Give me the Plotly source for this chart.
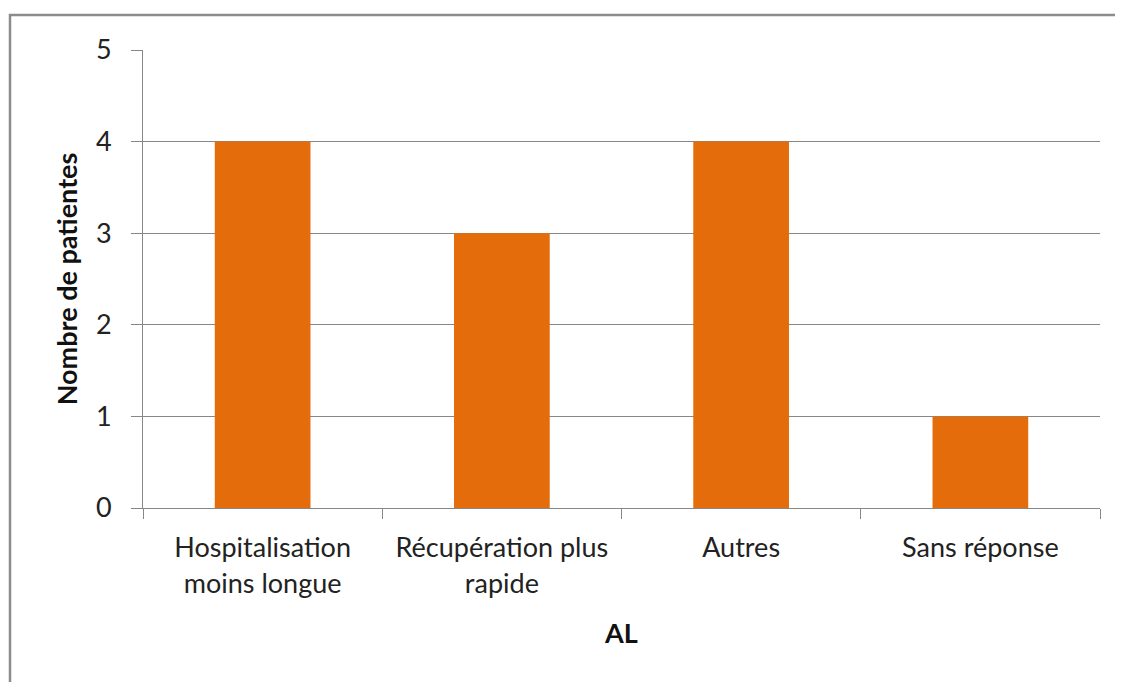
import plotly.graph_objects as go

categories = ["Hospitalisation<br>moins longue", "Récupération plus<br>rapide", "Autres", "Sans réponse"]
values = [4, 3, 4, 1]
y_ticks = [0, 1, 2, 3, 4, 5]

BAR = "#E46C0A"
GRID = "#878787"
FONT = "Lato, 'Open Sans', sans-serif"

# page has an 8px body margin, so margins are shifted by 8px
fig = go.Figure(go.Bar(x=categories, y=values, marker=dict(color=BAR, line=dict(width=0)), width=0.4))

fig.update_layout(
    width=1123, height=682,
    paper_bgcolor="white", plot_bgcolor="white",
    margin=dict(l=135, r=31, t=42, b=182),
    font=dict(family=FONT, size=27, color="#222222"),
    showlegend=False,
    xaxis=dict(
        type="category", tickson="boundaries", ticks="outside", ticklen=10, tickcolor=GRID,
        showline=True, linecolor=GRID, linewidth=1, showgrid=False,
        ticklabelstandoff=16,
        title=dict(text="<b>AL</b>", standoff=26, font=dict(size=27, color="#111111")),
        tickfont=dict(size=27),
    ),
    yaxis=dict(
        range=[0, 5], tickvals=y_ticks, ticks="outside", ticklen=11, tickcolor=GRID,
        showline=True, linecolor=GRID, linewidth=1, gridcolor=GRID, gridwidth=1,
        zeroline=False, ticklabelstandoff=14,
        title=dict(text="<b>Nombre de patientes</b>", standoff=10, font=dict(size=27, color="#111111")),
    ),
    shapes=[dict(type="rect", xref="paper", yref="paper",
                 x0=(10 - 143) / 957, x1=(1130 - 143) / 957,
                 y0=(508 - 700) / 458, y1=(508 - 15) / 458,
                 line=dict(color="#8C8C8C", width=2.5), fillcolor="rgba(0,0,0,0)", layer="below")],
)

fig.write_html("out.html")
